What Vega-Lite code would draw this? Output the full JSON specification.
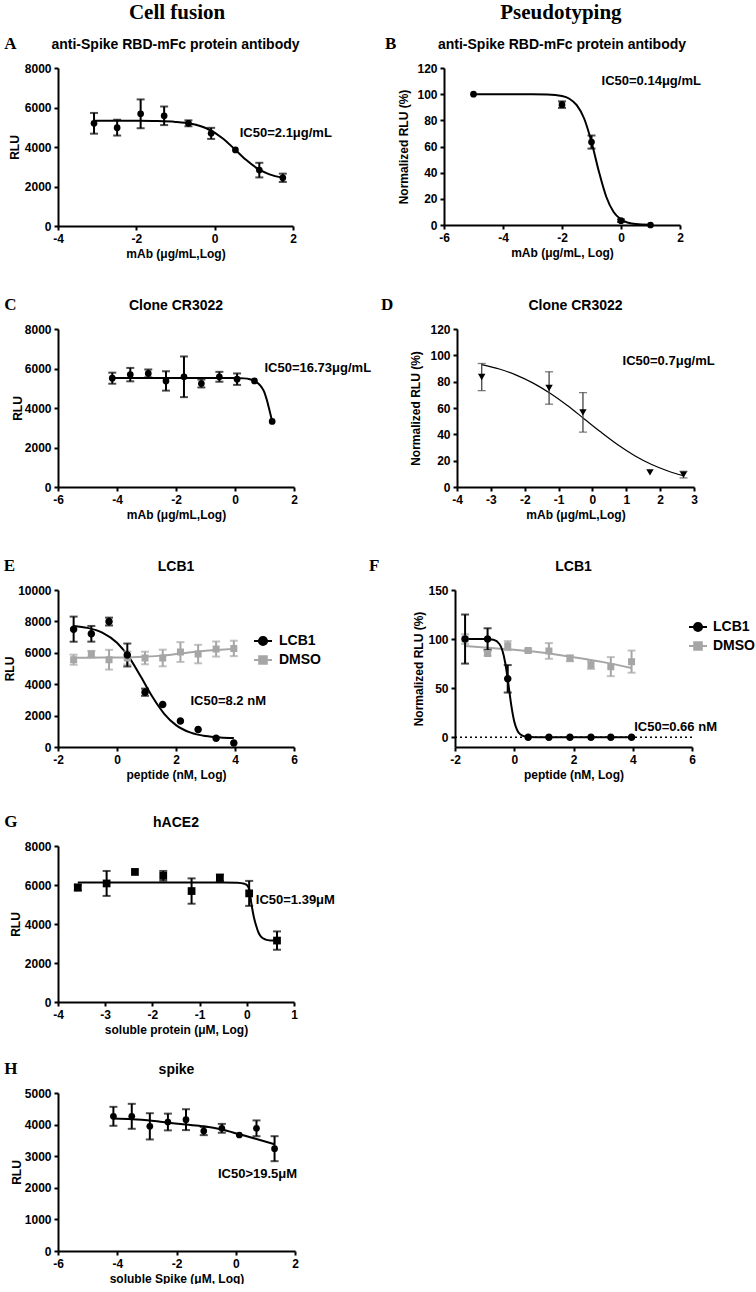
{
"$schema": "https://vega.github.io/schema/vega-lite/v6.json",
"padding": {"left": 3, "top": 2, "right": 0, "bottom": 0},
"background": "white",
"config": {
 "view": {"stroke": null},
 "font": "Liberation Sans",
 "axis": {"domainColor": "black", "domainWidth": 2, "tickColor": "black", "tickWidth": 2, "tickSize": 4, "labelColor": "black", "labelFont": "Liberation Sans", "labelFontSize": 12, "labelFontWeight": "bold", "labelPadding": 3, "titleColor": "black", "titleFont": "Liberation Sans", "titleFontSize": 12, "titleFontWeight": "bold", "titlePadding": 4, "grid": false, "labelFlush": false, "labelOverlap": false},
 "title": {"font": "Liberation Sans", "fontSize": 14, "fontWeight": "bold", "color": "black"},
 "legend": {"labelFont": "Liberation Sans", "labelFontSize": 14, "labelFontWeight": "bold", "labelColor": "black"}
},
"datasets": {
 "A_fit": [{"x":-3.08,"y":5330},{"x":-2.5,"y":5329},{"x":-2,"y":5325},{"x":-1.5,"y":5313},{"x":-1,"y":5271},{"x":-0.6,"y":5174},{"x":-0.2,"y":4936},{"x":0.2,"y":4446},{"x":0.5,"y":3911},{"x":0.8,"y":3351},{"x":1.1,"y":2902},{"x":1.4,"y":2615},{"x":1.74,"y":2442}],
 "A_pts": [{"x":-3.08,"y":5200,"e":525},{"x":-2.49,"y":4980,"e":400},{"x":-1.89,"y":5680,"e":730},{"x":-1.29,"y":5580,"e":470},{"x":-0.67,"y":5200,"e":150},{"x":-0.09,"y":4690,"e":280},{"x":0.53,"y":3850,"e":null},{"x":1.14,"y":2830,"e":370},{"x":1.74,"y":2440,"e":210}],
 "B_fit": [{"x":-5,"y":100},{"x":-4,"y":100},{"x":-3,"y":99.96},{"x":-2.5,"y":99.77},{"x":-2,"y":98.6},{"x":-1.75,"y":96.5},{"x":-1.5,"y":91.6},{"x":-1.25,"y":81.4},{"x":-1,"y":63.5},{"x":-0.75,"y":40.9},{"x":-0.5,"y":21.6},{"x":-0.25,"y":9.9},{"x":0,"y":4.2},{"x":0.25,"y":1.7},{"x":0.5,"y":0.69},{"x":1,"y":0.11}],
 "B_pts": [{"x":-5,"y":100,"e":null},{"x":-2,"y":92,"e":2.5},{"x":-1,"y":63.4,"e":5},{"x":0,"y":3.3,"e":1},{"x":1,"y":0,"e":null}],
 "C_fit": [{"x":-4.16,"y":5520},{"x":-2,"y":5520},{"x":0,"y":5515},{"x":0.3,"y":5500},{"x":0.5,"y":5460},{"x":0.66,"y":5370},{"x":0.8,"y":5230},{"x":0.91,"y":5030},{"x":1.0,"y":4780},{"x":1.08,"y":4400},{"x":1.15,"y":4000},{"x":1.2,"y":3700},{"x":1.26,"y":3320}],
 "C_pts": [{"x":-4.16,"y":5510,"e":280},{"x":-3.55,"y":5690,"e":340},{"x":-2.94,"y":5750,"e":200},{"x":-2.34,"y":5370,"e":490},{"x":-1.73,"y":5580,"e":1030},{"x":-1.14,"y":5240,"e":200},{"x":-0.53,"y":5580,"e":250},{"x":0.07,"y":5460,"e":290},{"x":0.66,"y":5370,"e":null},{"x":1.26,"y":3320,"e":null}],
 "D_fit": [{"x":-3.27,"y":93.0},{"x":-2.75,"y":89.6},{"x":-2.25,"y":85.0},{"x":-1.75,"y":78.9},{"x":-1.25,"y":71.2},{"x":-0.75,"y":62.1},{"x":-0.25,"y":51.9},{"x":0.25,"y":41.7},{"x":0.75,"y":32.1},{"x":1.25,"y":23.8},{"x":1.75,"y":17.1},{"x":2.25,"y":12.0},{"x":2.69,"y":8.6}],
 "D_pts": [{"x":-3.27,"y":83.5,"e":10.3},{"x":-1.28,"y":75.2,"e":12.3},{"x":-0.28,"y":56.7,"e":15},{"x":1.7,"y":11.1,"e":null},{"x":2.69,"y":9.4,"e":2.5}],
 "E_fit": [{"series":"LCB1","x":-1.47,"y":7709},{"series":"LCB1","x":-1,"y":7588},{"series":"LCB1","x":-0.5,"y":7289},{"series":"LCB1","x":0,"y":6640},{"series":"LCB1","x":0.4,"y":5736},{"series":"LCB1","x":0.8,"y":4507},{"series":"LCB1","x":1.2,"y":3198},{"series":"LCB1","x":1.6,"y":2116},{"series":"LCB1","x":2.0,"y":1394},{"series":"LCB1","x":2.5,"y":912},{"series":"LCB1","x":3.0,"y":698},{"series":"LCB1","x":3.5,"y":610},{"series":"LCB1","x":3.96,"y":576},
  {"series":"DMSO","x":-1.47,"y":5680},{"series":"DMSO","x":-0.5,"y":5700},{"series":"DMSO","x":0.5,"y":5720},{"series":"DMSO","x":1.0,"y":5760},{"series":"DMSO","x":1.5,"y":5820},{"series":"DMSO","x":2.0,"y":5920},{"series":"DMSO","x":2.5,"y":6030},{"series":"DMSO","x":3.0,"y":6130},{"series":"DMSO","x":3.5,"y":6200},{"series":"DMSO","x":3.96,"y":6250}],
 "E_pts": [{"series":"DMSO","x":-1.47,"y":5560,"e":320},{"series":"DMSO","x":-0.87,"y":5920,"e":200},{"series":"DMSO","x":-0.27,"y":5560,"e":630},{"series":"DMSO","x":0.35,"y":5670,"e":420},{"series":"DMSO","x":0.95,"y":5670,"e":400},{"series":"DMSO","x":1.55,"y":5670,"e":530},{"series":"DMSO","x":2.15,"y":6050,"e":630},{"series":"DMSO","x":2.75,"y":5920,"e":590},{"series":"DMSO","x":3.36,"y":6240,"e":480},{"series":"DMSO","x":3.96,"y":6280,"e":490},
  {"series":"LCB1","x":-1.47,"y":7505,"e":800},{"series":"LCB1","x":-0.87,"y":7210,"e":500},{"series":"LCB1","x":-0.27,"y":7990,"e":250},{"series":"LCB1","x":0.35,"y":5860,"e":730},{"series":"LCB1","x":0.95,"y":3490,"e":230},{"series":"LCB1","x":1.55,"y":2710,"e":null},{"series":"LCB1","x":2.15,"y":1650,"e":null},{"series":"LCB1","x":2.75,"y":1120,"e":null},{"series":"LCB1","x":3.36,"y":550,"e":null},{"series":"LCB1","x":3.96,"y":250,"e":null}],
 "F_fit": [{"series":"LCB1","x":-1.66,"y":100},{"series":"LCB1","x":-1,"y":100},{"series":"LCB1","x":-0.7,"y":99.2},{"series":"LCB1","x":-0.5,"y":95.0},{"series":"LCB1","x":-0.4,"y":88.4},{"series":"LCB1","x":-0.3,"y":75.1},{"series":"LCB1","x":-0.2,"y":54.6},{"series":"LCB1","x":-0.1,"y":32.4},{"series":"LCB1","x":0,"y":16},{"series":"LCB1","x":0.1,"y":7.1},{"series":"LCB1","x":0.2,"y":2.9},{"series":"LCB1","x":0.4,"y":0.5},{"series":"LCB1","x":0.7,"y":0.04},{"series":"LCB1","x":1.5,"y":0},{"series":"LCB1","x":3.96,"y":0},
  {"series":"DMSO","x":-1.66,"y":93},{"series":"DMSO","x":-1,"y":91.5},{"series":"DMSO","x":0,"y":89},{"series":"DMSO","x":1,"y":86},{"series":"DMSO","x":2,"y":81.5},{"series":"DMSO","x":3,"y":76.5},{"series":"DMSO","x":3.96,"y":70.5}],
 "F_pts": [{"series":"DMSO","x":-1.66,"y":100,"e":5},{"series":"DMSO","x":-0.9,"y":85.2,"e":2},{"series":"DMSO","x":-0.22,"y":93.3,"e":4.6},{"series":"DMSO","x":0.47,"y":88.3,"e":1.5},{"series":"DMSO","x":1.17,"y":87.9,"e":8},{"series":"DMSO","x":1.88,"y":80.4,"e":3},{"series":"DMSO","x":2.59,"y":73.6,"e":4},{"series":"DMSO","x":3.26,"y":71.9,"e":9.7},{"series":"DMSO","x":3.96,"y":77,"e":11.3},
  {"series":"LCB1","x":-1.66,"y":100,"e":25},{"series":"LCB1","x":-0.9,"y":100,"e":11},{"series":"LCB1","x":-0.22,"y":59.5,"e":14},{"series":"LCB1","x":0.47,"y":0,"e":null},{"series":"LCB1","x":1.17,"y":0,"e":null},{"series":"LCB1","x":1.88,"y":0,"e":null},{"series":"LCB1","x":2.59,"y":0,"e":null},{"series":"LCB1","x":3.26,"y":0,"e":null},{"series":"LCB1","x":3.96,"y":0,"e":null}],
 "G_fit": [{"x":-3.58,"y":6130},{"x":-2,"y":6130},{"x":-0.5,"y":6130},{"x":-0.2,"y":6110},{"x":-0.05,"y":6060},{"x":0,"y":6000},{"x":0.05,"y":5800},{"x":0.1,"y":5000},{"x":0.15,"y":4350},{"x":0.2,"y":3900},{"x":0.25,"y":3550},{"x":0.3,"y":3350},{"x":0.4,"y":3200},{"x":0.5,"y":3160},{"x":0.64,"y":3150}],
 "G_pts": [{"x":-3.58,"y":5870,"e":150},{"x":-2.97,"y":6080,"e":640},{"x":-2.37,"y":6670,"e":null},{"x":-1.77,"y":6470,"e":250},{"x":-1.17,"y":5690,"e":650},{"x":-0.57,"y":6370,"e":170},{"x":0.05,"y":5570,"e":640},{"x":0.64,"y":3150,"e":470}],
 "H_fit": [{"x":-4.13,"y":4190},{"x":-3.5,"y":4170},{"x":-2.9,"y":4130},{"x":-2.29,"y":4060},{"x":-1.68,"y":4000},{"x":-1.08,"y":3945},{"x":-0.47,"y":3845},{"x":0.12,"y":3695},{"x":0.7,"y":3545},{"x":1.31,"y":3380}],
 "H_pts": [{"x":-4.13,"y":4262,"e":300},{"x":-3.51,"y":4262,"e":395},{"x":-2.9,"y":3945,"e":415},{"x":-2.29,"y":4082,"e":265},{"x":-1.68,"y":4156,"e":330},{"x":-1.08,"y":3797,"e":130},{"x":-0.47,"y":3882,"e":140},{"x":0.12,"y":3671,"e":null},{"x":0.7,"y":3882,"e":250},{"x":1.31,"y":3238,"e":395}]
},
"spacing": 37,
"vconcat": [
 {"spacing": 52, "hconcat": [
  {"title": {"text": "Cell fusion", "font": "Liberation Serif", "fontSize": 21, "fontWeight": "bold", "anchor": "middle", "frame": "bounds", "offset": 12, "dx": 9},
   "vconcat": [
    {"title": {"text": "A", "font": "Liberation Serif", "fontSize": 17, "fontWeight": "bold", "anchor": "start", "frame": "bounds", "offset": -15, "dx": -4},
     "vconcat": [
      {"width": 235, "height": 158,
       "title": {"text": "anti-Spike RBD-mFc protein antibody", "anchor": "middle", "frame": "group", "offset": 10},
       "layer": [
        {"encoding": {
          "x": {"field": "x", "type": "quantitative", "scale": {"domain": [-4, 2], "nice": false, "zero": false}, "axis": {"values": [-4, -2, 0, 2], "title": "mAb (μg/mL,Log)", "labelExpr": "'' + datum.value", "labelOverlap": false}},
          "y": {"field": "y", "type": "quantitative", "scale": {"domain": [0, 8000], "nice": false, "zero": false}, "axis": {"values": [0, 2000, 4000, 6000, 8000], "title": "RLU", "titlePadding": 3, "labelExpr": "'' + datum.value", "labelOverlap": false}}},
         "layer": [
          {"data": {"name": "A_fit"}, "mark": {"type": "line", "interpolate": "monotone", "color": "black", "strokeWidth": 2}},
          {"data": {"name": "A_pts"}, "transform": [{"filter": "isValid(datum.e)"}], "mark": {"type": "errorbar", "ticks": true, "size": 8, "thickness": 2, "color": "black"}, "encoding": {"yError": {"field": "e"}}},
          {"data": {"name": "A_pts"}, "mark": {"type": "point", "shape": "circle", "filled": true, "size": 45, "color": "black", "opacity": 1}}
         ]},
        {"data": {"values": [{"label": "IC50=2.1μg/mL"}]}, "mark": {"type": "text", "align": "left", "baseline": "alphabetic", "fontSize": 13, "fontWeight": "bold", "font": "Liberation Sans", "color": "black"},
         "encoding": {"text": {"field": "label", "type": "nominal"},
          "x": {"datum": 0.64, "type": "quantitative", "scale": {"domain": [-4, 2], "nice": false, "zero": false}, "axis": {"values": [-4, -2, 0, 2], "title": "mAb (μg/mL,Log)", "labelExpr": "'' + datum.value", "labelOverlap": false}},
          "y": {"datum": 4490, "type": "quantitative", "scale": {"domain": [0, 8000], "nice": false, "zero": false}, "axis": {"values": [0, 2000, 4000, 6000, 8000], "title": "RLU", "titlePadding": 3, "labelExpr": "'' + datum.value", "labelOverlap": false}}}}
       ]}
     ]}
   ]},
  {"title": {"text": "Pseudotyping", "font": "Liberation Serif", "fontSize": 21, "fontWeight": "bold", "anchor": "middle", "frame": "bounds", "offset": 12, "dx": 18},
   "vconcat": [
    {"title": {"text": "B", "font": "Liberation Serif", "fontSize": 17, "fontWeight": "bold", "anchor": "start", "frame": "bounds", "offset": -15, "dx": -13},
     "vconcat": [
      {"width": 236, "height": 157,
       "title": {"text": "anti-Spike RBD-mFc protein antibody", "anchor": "middle", "frame": "group", "offset": 10},
       "layer": [
        {"encoding": {
          "x": {"field": "x", "type": "quantitative", "scale": {"domain": [-6, 2], "nice": false, "zero": false}, "axis": {"values": [-6, -4, -2, 0, 2], "title": "mAb (μg/mL, Log)", "labelExpr": "'' + datum.value", "labelOverlap": false}},
          "y": {"field": "y", "type": "quantitative", "scale": {"domain": [0, 120], "nice": false, "zero": false}, "axis": {"values": [0, 20, 40, 60, 80, 100, 120], "title": "Normalized RLU (%)", "titlePadding": 6, "labelExpr": "'' + datum.value", "labelOverlap": false}}},
         "layer": [
          {"data": {"name": "B_fit"}, "mark": {"type": "line", "interpolate": "monotone", "color": "black", "strokeWidth": 2}},
          {"data": {"name": "B_pts"}, "transform": [{"filter": "isValid(datum.e)"}], "mark": {"type": "errorbar", "ticks": true, "size": 8, "thickness": 2, "color": "black"}, "encoding": {"yError": {"field": "e"}}},
          {"data": {"name": "B_pts"}, "mark": {"type": "point", "shape": "circle", "filled": true, "size": 45, "color": "black", "opacity": 1}}
         ]},
        {"data": {"values": [{"label": "IC50=0.14μg/mL"}]}, "mark": {"type": "text", "align": "left", "baseline": "alphabetic", "fontSize": 13, "fontWeight": "bold", "font": "Liberation Sans", "color": "black"},
         "encoding": {"text": {"field": "label", "type": "nominal"},
          "x": {"datum": -0.66, "type": "quantitative", "scale": {"domain": [-6, 2], "nice": false, "zero": false}, "axis": {"values": [-6, -4, -2, 0, 2], "title": "mAb (μg/mL, Log)", "labelExpr": "'' + datum.value", "labelOverlap": false}},
          "y": {"datum": 107, "type": "quantitative", "scale": {"domain": [0, 120], "nice": false, "zero": false}, "axis": {"values": [0, 20, 40, 60, 80, 100, 120], "title": "Normalized RLU (%)", "titlePadding": 6, "labelExpr": "'' + datum.value", "labelOverlap": false}}}}
       ]}
     ]}
   ]}
 ]},
 {"spacing": 37, "vconcat": [
  {"spacing": 8, "hconcat": [
   {"title": {"text": "C", "font": "Liberation Serif", "fontSize": 17, "fontWeight": "bold", "anchor": "start", "frame": "bounds", "offset": -15, "dx": -7},
    "vconcat": [
     {"width": 236, "height": 158,
      "title": {"text": "Clone CR3022", "anchor": "middle", "frame": "group", "offset": 10},
      "layer": [
       {"encoding": {
         "x": {"field": "x", "type": "quantitative", "scale": {"domain": [-6, 2], "nice": false, "zero": false}, "axis": {"values": [-6, -4, -2, 0, 2], "title": "mAb (μg/mL,Log)", "labelExpr": "'' + datum.value", "labelOverlap": false}},
         "y": {"field": "y", "type": "quantitative", "scale": {"domain": [0, 8000], "nice": false, "zero": false}, "axis": {"values": [0, 2000, 4000, 6000, 8000], "title": "RLU", "titlePadding": 0, "labelExpr": "'' + datum.value", "labelOverlap": false}}},
        "layer": [
         {"data": {"name": "C_fit"}, "mark": {"type": "line", "interpolate": "monotone", "color": "black", "strokeWidth": 2}},
         {"data": {"name": "C_pts"}, "transform": [{"filter": "isValid(datum.e)"}], "mark": {"type": "errorbar", "ticks": true, "size": 8, "thickness": 2, "color": "black"}, "encoding": {"yError": {"field": "e"}}},
         {"data": {"name": "C_pts"}, "mark": {"type": "point", "shape": "circle", "filled": true, "size": 45, "color": "black", "opacity": 1}}
        ]},
       {"data": {"values": [{"label": "IC50=16.73μg/mL"}]}, "mark": {"type": "text", "align": "left", "baseline": "alphabetic", "fontSize": 13, "fontWeight": "bold", "font": "Liberation Sans", "color": "black"},
        "encoding": {"text": {"field": "label", "type": "nominal"},
         "x": {"datum": 1.0, "type": "quantitative", "scale": {"domain": [-6, 2], "nice": false, "zero": false}, "axis": {"values": [-6, -4, -2, 0, 2], "title": "mAb (μg/mL,Log)", "labelExpr": "'' + datum.value", "labelOverlap": false}},
         "y": {"datum": 5830, "type": "quantitative", "scale": {"domain": [0, 8000], "nice": false, "zero": false}, "axis": {"values": [0, 2000, 4000, 6000, 8000], "title": "RLU", "titlePadding": 0, "labelExpr": "'' + datum.value", "labelOverlap": false}}}}
      ]}
    ]},
   {"title": {"text": "D", "font": "Liberation Serif", "fontSize": 17, "fontWeight": "bold", "anchor": "start", "frame": "bounds", "offset": -15, "dx": -29},
    "vconcat": [
     {"width": 237, "height": 158,
      "title": {"text": "Clone CR3022", "anchor": "middle", "frame": "group", "offset": 10},
      "layer": [
       {"encoding": {
         "x": {"field": "x", "type": "quantitative", "scale": {"domain": [-4, 3], "nice": false, "zero": false}, "axis": {"values": [-4, -3, -2, -1, 0, 1, 2, 3], "title": "mAb (μg/mL,Log)", "labelExpr": "'' + datum.value", "labelOverlap": false}},
         "y": {"field": "y", "type": "quantitative", "scale": {"domain": [0, 120], "nice": false, "zero": false}, "axis": {"values": [0, 20, 40, 60, 80, 100, 120], "title": "Normalized RLU (%)", "titlePadding": 7, "labelExpr": "'' + datum.value", "labelOverlap": false}}},
        "layer": [
         {"data": {"name": "D_fit"}, "mark": {"type": "line", "interpolate": "monotone", "color": "black", "strokeWidth": 1.2}},
         {"data": {"name": "D_pts"}, "transform": [{"filter": "isValid(datum.e)"}], "mark": {"type": "errorbar", "ticks": true, "size": 8, "thickness": 1.3, "color": "#444444"}, "encoding": {"yError": {"field": "e"}}},
         {"data": {"name": "D_pts"}, "mark": {"type": "point", "shape": "triangle-down", "filled": true, "size": 55, "color": "black", "opacity": 1}}
        ]},
       {"data": {"values": [{"label": "IC50=0.7μg/mL"}]}, "mark": {"type": "text", "align": "left", "baseline": "alphabetic", "fontSize": 13, "fontWeight": "bold", "font": "Liberation Sans", "color": "black"},
        "encoding": {"text": {"field": "label", "type": "nominal"},
         "x": {"datum": 0.89, "type": "quantitative", "scale": {"domain": [-4, 3], "nice": false, "zero": false}, "axis": {"values": [-4, -3, -2, -1, 0, 1, 2, 3], "title": "mAb (μg/mL,Log)", "labelExpr": "'' + datum.value", "labelOverlap": false}},
         "y": {"datum": 92.4, "type": "quantitative", "scale": {"domain": [0, 120], "nice": false, "zero": false}, "axis": {"values": [0, 20, 40, 60, 80, 100, 120], "title": "Normalized RLU (%)", "titlePadding": 7, "labelExpr": "'' + datum.value", "labelOverlap": false}}}}
      ]}
    ]}
  ]},
  {"spacing": 33, "vconcat": [
   {"spacing": 47,
    "resolve": {"scale": {"color": "independent", "shape": "independent", "stroke": "independent"}, "legend": {"color": "independent", "shape": "independent", "stroke": "independent"}},
    "hconcat": [
    {"title": {"text": "E", "font": "Liberation Serif", "fontSize": 17, "fontWeight": "bold", "anchor": "start", "frame": "bounds", "offset": -15, "dx": 0},
     "resolve": {"scale": {"color": "independent", "shape": "independent", "stroke": "independent"}, "legend": {"color": "independent", "shape": "independent", "stroke": "independent"}},
     "vconcat": [
      {"width": 236, "height": 157,
       "title": {"text": "LCB1", "anchor": "middle", "frame": "group", "offset": 10},
       "layer": [
        {"encoding": {
          "x": {"field": "x", "type": "quantitative", "scale": {"domain": [-2, 6], "nice": false, "zero": false}, "axis": {"values": [-2, 0, 2, 4, 6], "title": "peptide (nM, Log)", "labelExpr": "'' + datum.value", "labelOverlap": false}},
          "y": {"field": "y", "type": "quantitative", "scale": {"domain": [0, 10000], "nice": false, "zero": false}, "axis": {"values": [0, 2000, 4000, 6000, 8000, 10000], "title": "RLU", "titlePadding": 1, "labelExpr": "'' + datum.value", "labelOverlap": false}}},
         "layer": [
          {"data": {"name": "E_fit"}, "transform": [{"filter": "datum.series === 'DMSO'"}], "mark": {"type": "line", "interpolate": "monotone", "color": "#a6a6a6", "strokeWidth": 2}},
          {"data": {"name": "E_fit"}, "transform": [{"filter": "datum.series === 'LCB1'"}], "mark": {"type": "line", "interpolate": "monotone", "color": "black", "strokeWidth": 2}},
          {"data": {"name": "E_pts"}, "transform": [{"filter": "isValid(datum.e) && datum.series === 'DMSO'"}], "mark": {"type": "errorbar", "ticks": true, "size": 8, "thickness": 2, "color": "#a6a6a6"}, "encoding": {"yError": {"field": "e"}}},
          {"data": {"name": "E_pts"}, "transform": [{"filter": "isValid(datum.e) && datum.series === 'LCB1'"}], "mark": {"type": "errorbar", "ticks": true, "size": 8, "thickness": 2, "color": "black"}, "encoding": {"yError": {"field": "e"}}},
          {"data": {"name": "E_pts"}, "mark": {"type": "point", "filled": true, "size": 278, "opacity": 1, "strokeWidth": 0},
           "encoding": {
            "shape": {"field": "series", "type": "nominal", "scale": {"domain": ["LCB1", "DMSO"], "range": ["M-1,0L1,0M0.45,0A0.45,0.45,0,1,1,-0.45,0A0.45,0.45,0,1,1,0.45,0Z", "M-1,0L1,0M-0.42,-0.42L0.42,-0.42L0.42,0.42L-0.42,0.42Z"]}, "legend": null},
            "stroke": {"field": "series", "type": "nominal", "scale": {"domain": ["LCB1", "DMSO"], "range": ["black", "#a6a6a6"]},
             "legend": {"title": null, "orient": "none", "legendX": 195, "legendY": 41, "padding": 0, "symbolSize": 324, "symbolStrokeWidth": 2, "labelOffset": 6, "rowPadding": 0, "labelFontSize": 14}},
            "color": {"field": "series", "type": "nominal", "scale": {"domain": ["LCB1", "DMSO"], "range": ["black", "#a6a6a6"]},
             "legend": {"title": null, "orient": "none", "legendX": 195, "legendY": 41, "padding": 0, "symbolSize": 324, "symbolStrokeWidth": 2, "labelOffset": 6, "rowPadding": 0, "labelFontSize": 14}}}}
         ]},
        {"data": {"values": [{"label": "IC50=8.2 nM"}]}, "mark": {"type": "text", "align": "left", "baseline": "alphabetic", "fontSize": 13, "fontWeight": "bold", "font": "Liberation Sans", "color": "black"},
         "encoding": {"text": {"field": "label", "type": "nominal"},
          "x": {"datum": 2.49, "type": "quantitative", "scale": {"domain": [-2, 6], "nice": false, "zero": false}, "axis": {"values": [-2, 0, 2, 4, 6], "title": "peptide (nM, Log)", "labelExpr": "'' + datum.value", "labelOverlap": false}},
          "y": {"datum": 2660, "type": "quantitative", "scale": {"domain": [0, 10000], "nice": false, "zero": false}, "axis": {"values": [0, 2000, 4000, 6000, 8000, 10000], "title": "RLU", "titlePadding": 1, "labelExpr": "'' + datum.value", "labelOverlap": false}}}}
       ]}
     ]},
    {"title": {"text": "F", "font": "Liberation Serif", "fontSize": 17, "fontWeight": "bold", "anchor": "start", "frame": "bounds", "offset": -15, "dx": -44},
     "resolve": {"scale": {"color": "independent", "shape": "independent", "stroke": "independent"}, "legend": {"color": "independent", "shape": "independent", "stroke": "independent"}},
     "vconcat": [
      {"width": 237, "height": 157,
       "title": {"text": "LCB1", "anchor": "middle", "frame": "group", "offset": 10},
       "layer": [
        {"encoding": {
          "x": {"field": "x", "type": "quantitative", "scale": {"domain": [-2, 6], "nice": false, "zero": false}, "axis": {"values": [-2, 0, 2, 4, 6], "title": "peptide (nM, Log)", "labelExpr": "'' + datum.value", "labelOverlap": false}},
          "y": {"field": "y", "type": "quantitative", "scale": {"domain": [-10, 150], "nice": false, "zero": false}, "axis": {"values": [0, 50, 100, 150], "title": "Normalized RLU (%)", "titlePadding": 2, "labelExpr": "'' + datum.value", "labelOverlap": false}}},
         "layer": [
          {"data": {"name": "F_fit"}, "transform": [{"filter": "datum.series === 'DMSO'"}], "mark": {"type": "line", "interpolate": "monotone", "color": "#a6a6a6", "strokeWidth": 2}},
          {"data": {"name": "F_fit"}, "transform": [{"filter": "datum.series === 'LCB1'"}], "mark": {"type": "line", "interpolate": "monotone", "color": "black", "strokeWidth": 2}},
          {"data": {"name": "F_pts"}, "transform": [{"filter": "isValid(datum.e) && datum.series === 'DMSO'"}], "mark": {"type": "errorbar", "ticks": true, "size": 8, "thickness": 2, "color": "#a6a6a6"}, "encoding": {"yError": {"field": "e"}}},
          {"data": {"name": "F_pts"}, "transform": [{"filter": "isValid(datum.e) && datum.series === 'LCB1'"}], "mark": {"type": "errorbar", "ticks": true, "size": 8, "thickness": 2, "color": "black"}, "encoding": {"yError": {"field": "e"}}},
          {"data": {"name": "F_pts"}, "mark": {"type": "point", "filled": true, "size": 278, "opacity": 1, "strokeWidth": 0},
           "encoding": {
            "shape": {"field": "series", "type": "nominal", "scale": {"domain": ["LCB1", "DMSO"], "range": ["M-1,0L1,0M0.45,0A0.45,0.45,0,1,1,-0.45,0A0.45,0.45,0,1,1,0.45,0Z", "M-1,0L1,0M-0.42,-0.42L0.42,-0.42L0.42,0.42L-0.42,0.42Z"]}, "legend": null},
            "stroke": {"field": "series", "type": "nominal", "scale": {"domain": ["LCB1", "DMSO"], "range": ["black", "#a6a6a6"]},
             "legend": {"title": null, "orient": "none", "legendX": 233, "legendY": 27, "padding": 0, "symbolSize": 324, "symbolStrokeWidth": 2, "labelOffset": 5, "rowPadding": 0, "labelFontSize": 14}},
            "color": {"field": "series", "type": "nominal", "scale": {"domain": ["LCB1", "DMSO"], "range": ["black", "#a6a6a6"]},
             "legend": {"title": null, "orient": "none", "legendX": 233, "legendY": 27, "padding": 0, "symbolSize": 324, "symbolStrokeWidth": 2, "labelOffset": 5, "rowPadding": 0, "labelFontSize": 14}}}}
         ]},
        {"data": {"values": [{}]}, "mark": {"type": "rule", "strokeDash": [2, 3], "strokeWidth": 1.5, "color": "black"},
         "encoding": {
          "x": {"datum": -2, "type": "quantitative", "scale": {"domain": [-2, 6], "nice": false, "zero": false}, "axis": {"values": [-2, 0, 2, 4, 6], "title": "peptide (nM, Log)", "labelExpr": "'' + datum.value", "labelOverlap": false}},
          "x2": {"datum": 6},
          "y": {"datum": 0, "type": "quantitative", "scale": {"domain": [-10, 150], "nice": false, "zero": false}, "axis": {"values": [0, 50, 100, 150], "title": "Normalized RLU (%)", "titlePadding": 2, "labelExpr": "'' + datum.value", "labelOverlap": false}}}},
        {"data": {"values": [{"label": "IC50=0.66 nM"}]}, "mark": {"type": "text", "align": "left", "baseline": "alphabetic", "fontSize": 13, "fontWeight": "bold", "font": "Liberation Sans", "color": "black"},
         "encoding": {"text": {"field": "label", "type": "nominal"},
          "x": {"datum": 4.05, "type": "quantitative", "scale": {"domain": [-2, 6], "nice": false, "zero": false}, "axis": {"values": [-2, 0, 2, 4, 6], "title": "peptide (nM, Log)", "labelExpr": "'' + datum.value", "labelOverlap": false}},
          "y": {"datum": 6.4, "type": "quantitative", "scale": {"domain": [-10, 150], "nice": false, "zero": false}, "axis": {"values": [0, 50, 100, 150], "title": "Normalized RLU (%)", "titlePadding": 2, "labelExpr": "'' + datum.value", "labelOverlap": false}}}}
       ]}
     ]}
   ]},
   {"spacing": 25, "vconcat": [
    {"title": {"text": "G", "font": "Liberation Serif", "fontSize": 17, "fontWeight": "bold", "anchor": "start", "frame": "bounds", "offset": -15, "dx": -5},
     "vconcat": [
      {"width": 236, "height": 156,
       "title": {"text": "hACE2", "anchor": "middle", "frame": "group", "offset": 10},
       "layer": [
        {"encoding": {
          "x": {"field": "x", "type": "quantitative", "scale": {"domain": [-4, 1], "nice": false, "zero": false}, "axis": {"values": [-4, -3, -2, -1, 0, 1], "title": "soluble protein (μM, Log)", "labelExpr": "'' + datum.value", "labelOverlap": false}},
          "y": {"field": "y", "type": "quantitative", "scale": {"domain": [0, 8000], "nice": false, "zero": false}, "axis": {"values": [0, 2000, 4000, 6000, 8000], "title": "RLU", "titlePadding": 2, "labelExpr": "'' + datum.value", "labelOverlap": false}}},
         "layer": [
          {"data": {"name": "G_fit"}, "mark": {"type": "line", "interpolate": "monotone", "color": "black", "strokeWidth": 2}},
          {"data": {"name": "G_pts"}, "transform": [{"filter": "isValid(datum.e)"}], "mark": {"type": "errorbar", "ticks": true, "size": 8, "thickness": 2, "color": "black"}, "encoding": {"yError": {"field": "e"}}},
          {"data": {"name": "G_pts"}, "mark": {"type": "point", "shape": "square", "filled": true, "size": 60, "color": "black", "opacity": 1}}
         ]},
        {"data": {"values": [{"label": "IC50=1.39μM"}]}, "mark": {"type": "text", "align": "left", "baseline": "alphabetic", "fontSize": 13, "fontWeight": "bold", "font": "Liberation Sans", "color": "black"},
         "encoding": {"text": {"field": "label", "type": "nominal"},
          "x": {"datum": 0.19, "type": "quantitative", "scale": {"domain": [-4, 1], "nice": false, "zero": false}, "axis": {"values": [-4, -3, -2, -1, 0, 1], "title": "soluble protein (μM, Log)", "labelExpr": "'' + datum.value", "labelOverlap": false}},
          "y": {"datum": 5021, "type": "quantitative", "scale": {"domain": [0, 8000], "nice": false, "zero": false}, "axis": {"values": [0, 2000, 4000, 6000, 8000], "title": "RLU", "titlePadding": 2, "labelExpr": "'' + datum.value", "labelOverlap": false}}}}
       ]}
     ]},
    {"title": {"text": "H", "font": "Liberation Serif", "fontSize": 17, "fontWeight": "bold", "anchor": "start", "frame": "bounds", "offset": -15, "dx": -6},
     "vconcat": [
      {"width": 237, "height": 158,
       "title": {"text": "spike", "anchor": "middle", "frame": "group", "offset": 10},
       "layer": [
        {"encoding": {
          "x": {"field": "x", "type": "quantitative", "scale": {"domain": [-6, 2], "nice": false, "zero": false}, "axis": {"values": [-6, -4, -2, 0, 2], "title": "soluble Spike (μM, Log)", "labelExpr": "'' + datum.value", "labelOverlap": false}},
          "y": {"field": "y", "type": "quantitative", "scale": {"domain": [0, 5000], "nice": false, "zero": false}, "axis": {"values": [0, 1000, 2000, 3000, 4000, 5000], "title": "RLU", "titlePadding": 1, "labelExpr": "'' + datum.value", "labelOverlap": false}}},
         "layer": [
          {"data": {"name": "H_fit"}, "mark": {"type": "line", "interpolate": "monotone", "color": "black", "strokeWidth": 2}},
          {"data": {"name": "H_pts"}, "transform": [{"filter": "isValid(datum.e)"}], "mark": {"type": "errorbar", "ticks": true, "size": 8, "thickness": 2, "color": "black"}, "encoding": {"yError": {"field": "e"}}},
          {"data": {"name": "H_pts"}, "mark": {"type": "point", "shape": "circle", "filled": true, "size": 45, "color": "black", "opacity": 1}}
         ]},
        {"data": {"values": [{"label": "IC50>19.5μM"}]}, "mark": {"type": "text", "align": "left", "baseline": "alphabetic", "fontSize": 13, "fontWeight": "bold", "font": "Liberation Sans", "color": "black"},
         "encoding": {"text": {"field": "label", "type": "nominal"},
          "x": {"datum": -0.6, "type": "quantitative", "scale": {"domain": [-6, 2], "nice": false, "zero": false}, "axis": {"values": [-6, -4, -2, 0, 2], "title": "soluble Spike (μM, Log)", "labelExpr": "'' + datum.value", "labelOverlap": false}},
          "y": {"datum": 2310, "type": "quantitative", "scale": {"domain": [0, 5000], "nice": false, "zero": false}, "axis": {"values": [0, 1000, 2000, 3000, 4000, 5000], "title": "RLU", "titlePadding": 1, "labelExpr": "'' + datum.value", "labelOverlap": false}}}}
       ]}
     ]}
   ]}
  ]}
 ]}
]
}
